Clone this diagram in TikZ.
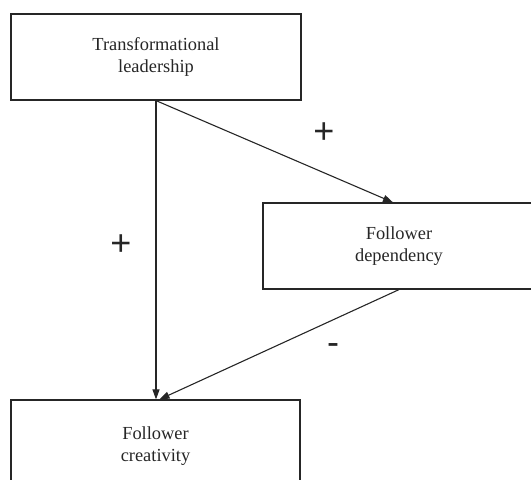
\documentclass[tikz,border=0pt]{standalone}
\usepackage{fontspec}
\setmainfont{Liberation Serif}
\newfontfamily\signfont{Liberation Sans}
\usetikzlibrary{positioning, arrows.meta}
\definecolor{boxline}{HTML}{262626}

\tikzset{
  varbox/.style={draw=boxline, line width=1.2pt, minimum height=86pt,
                 align=center, text=boxline, font=\fontsize{18.4}{22.7}\selectfont},
  link/.style={draw=boxline, line width=1.1pt, -{Triangle[length=10pt, width=7pt]}},
  sign/.style={text=boxline, inner sep=0pt, font=\signfont\fontsize{36}{36}\selectfont}
}

\begin{document}
\begin{tikzpicture}[x=1pt, y=-1pt]
    \useasboundingbox (0,0) rectangle (531,480);
    \node[varbox, minimum width=290pt] (lead) at (156,57) {Transformational\\leadership};
    \node[varbox, minimum width=272pt] (dep) at (399,246) {Follower\\dependency};
    \node[varbox, minimum width=289pt, minimum height=92pt] (crea) at (155.5,446) {Follower\\creativity};

    \draw[link] (lead.south) -- (lead.south |- crea.north);
    \draw[link] (lead.south) -- ([xshift=-6pt]dep.north);
    \draw[link] (dep.south) -- ([xshift=4pt]crea.north);

    \node[sign] (plustop) at (324,133) {+};
    \node[sign] (plusleft) at (121,245) {+};
    \node[sign] (minus) at (333,349) {-};
\end{tikzpicture}
\end{document}
